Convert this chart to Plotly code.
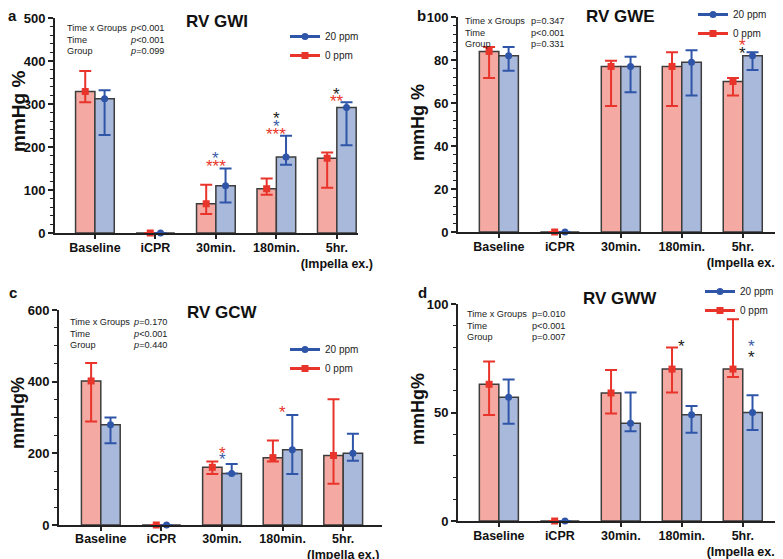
import plotly.graph_objects as go

categories = ["Baseline", "iCPR", "30min.", "180min.", "5hr.<br>(Impella ex.)"]

# Panel a: RV GWI
a_red_mean = [329, 0, 68, 103, 174]
a_red_up = [377, 0, 112, 127, 187]
a_red_lo = [304, 0, 44, 89, 105]
a_blue_mean = [312, 0, 110, 177, 292]
a_blue_up = [332, 0, 150, 226, 304]
a_blue_lo = [228, 0, 71, 159, 204]

# Panel b: RV GWE
b_red_mean = [84, 0, 77, 77, 70]
b_red_up = [86, 0, 79.6, 83.6, 71.6]
b_red_lo = [71.6, 0, 58.6, 58.6, 63.5]
b_blue_mean = [82, 0, 77, 79, 82]
b_blue_up = [86, 0, 81.5, 84.5, 83.6]
b_blue_lo = [75, 0, 65, 63.5, 75.4]

# Panel c: RV GCW
c_red_mean = [402, 0, 161, 188, 194]
c_red_up = [452, 0, 177, 236, 351]
c_red_lo = [289, 0, 142, 177, 115]
c_blue_mean = [280, 0, 144, 210, 200]
c_blue_up = [300, 0, 170, 307, 255]
c_blue_lo = [228, 0, 144, 142, 179]

# Panel d: RV GWW
d_red_mean = [63, 0, 59, 70, 70]
d_red_up = [73.5, 0, 69.6, 80, 93]
d_red_lo = [48.8, 0, 49.5, 59.2, 66.4]
d_blue_mean = [57, 0, 45, 49, 50]
d_blue_up = [65.2, 0, 59.2, 53, 57.9]
d_blue_lo = [44.8, 0, 41.4, 40.7, 41.9]

# significance marks: (category position, y value, text, colour key)
a_stars = [(2, 182, "*", "b"), (2, 163, "***", "r"), (3, 275, "*", "k"), (3, 256, "*", "b"),
           (3, 238, "***", "r"), (4, 332, "*", "k"), (4, 315.5, "**", "r")]
b_stars = [(4, 88.4, "*", "r"), (4, 85, "*", "k")]
c_stars = [(2, 212, "*", "r"), (2, 193, "*", "b"), (3, 326, "*", "r")]
d_stars = [(3, 82.3, "*", "k"), (4.15, 82.3, "*", "b"), (4.15, 77.4, "*", "k")]

a_stats = [("Time x Groups", "<i>p</i>&lt;0.001"), ("Time", "<i>p</i>&lt;0.001"), ("Group", "<i>p</i>=0.099")]
b_stats = [("Time x Groups", "p=0.347"), ("Time", "p&lt;0.001"), ("Group", "p=0.331")]
c_stats = [("Time x Groups", "<i>p</i>=0.170"), ("Time", "<i>p</i>&lt;0.001"), ("Group", "<i>p</i>=0.440")]
d_stats = [("Time x Groups", "p=0.010"), ("Time", "p&lt;0.001"), ("Group", "p=0.007")]

# the page body adds an 8px margin, so the figure is drawn 8px smaller and positions
# below are given in screen pixels and shifted back
PAGE_PAD = 8
W, H = 783 - PAGE_PAD, 559 - PAGE_PAD
FONT = "Liberation Sans, Arial, sans-serif"
RED_FILL = "#F4A9A2"
BLUE_FILL = "#A9B9DB"
RED = "#E8342A"
BLUE = "#2F55A8"
OUTLINE = "#3d3d3d"
STAR_COL = {"r": RED, "b": "#3B5BAA", "k": "#222222"}

def px_x(p):
    return (p - PAGE_PAD) / W

def px_y(p):
    return 1 - (p - PAGE_PAD) / H

panels = [
    dict(key="", red=(a_red_mean, a_red_up, a_red_lo), blue=(a_blue_mean, a_blue_up, a_blue_lo),
         xdom=(55, 358), ydom=(18, 233), xr=[-0.66, 4.35], yr=[0, 500], dtick=100, minor=20,
         title="RV GWI", tpos=(217, 21), letter="a", lpos=(12, 16), stand=-2,
         ytitle="mmHg %", ytsize=19, ytpos=(19, 112), stars=a_stars, stats=a_stats,
         spos=(65, 166, 28), legpos=(285, 22), legname="legend"),
    dict(key="2", red=(b_red_mean, b_red_up, b_red_lo), blue=(b_blue_mean, b_blue_up, b_blue_lo),
         xdom=(458, 783), ydom=(17, 232), xr=[-0.67, 4.66], yr=[0, 100], dtick=20, minor=4,
         title="RV GWE", tpos=(620, 17), letter="b", lpos=(421, 16), stand=-2,
         ytitle="mmHg %", ytsize=18, ytpos=(418, 123), stars=b_stars, stats=b_stats,
         spos=(463, 566, 21), legpos=(693, 0), legname="legend2"),
    dict(key="3", red=(c_red_mean, c_red_up, c_red_lo), blue=(c_blue_mean, c_blue_up, c_blue_lo),
         xdom=(59, 382), ydom=(310, 525), xr=[-0.69, 4.64], yr=[0, 600], dtick=200, minor=50,
         title="RV GCW", tpos=(222, 312), letter="c", lpos=(13, 292), stand=-3,
         ytitle="mmHg%", ytsize=18, ytpos=(18, 413), stars=c_stars, stats=c_stats,
         spos=(68, 169, 322), legpos=(285, 335), legname="legend3"),
    dict(key="4", red=(d_red_mean, d_red_up, d_red_lo), blue=(d_blue_mean, d_blue_up, d_blue_lo),
         xdom=(458, 783), ydom=(304, 521), xr=[-0.67, 4.66], yr=[0, 100], dtick=50, minor=10,
         title="RV GWW", tpos=(620, 298), letter="d", lpos=(422, 292), stand=-2,
         ytitle="mmHg%", ytsize=18, ytpos=(418, 409), stars=d_stars, stats=d_stats,
         spos=(465, 567, 314), legpos=(700, 277), legname="legend4"),
]

fig = go.Figure()
annotations = []
layout = dict(width=W, height=H, margin=dict(l=0, r=0, t=0, b=0, autoexpand=False),
              paper_bgcolor="white", plot_bgcolor="white",
              font=dict(family=FONT, color="#222222"),
              barmode="overlay", showlegend=True)

OFF = 0.16
for p in panels:
    k = p["key"]
    xa, ya = "x" + k, "y" + k
    for (mean, up, lo), sign, fill, col, sym in [
        (p["red"], -1, RED_FILL, RED, "square"),
        (p["blue"], 1, BLUE_FILL, BLUE, "circle"),
    ]:
        xb = [i + sign * OFF for i in range(len(mean))]
        xm = [i + sign * (OFF if m > 0 else 0.085) for i, m in enumerate(mean)]
        fig.add_trace(go.Bar(x=xb, y=mean, width=0.32, xaxis=xa, yaxis=ya,
                             marker=dict(color=fill, line=dict(color=OUTLINE, width=1.5)),
                             showlegend=False, hoverinfo="skip"))
        fig.add_trace(go.Scatter(x=xm, y=mean, xaxis=xa, yaxis=ya, mode="markers",
                                 marker=dict(symbol=sym, size=7, color=col),
                                 error_y=dict(type="data", symmetric=False,
                                              array=[u - m for u, m in zip(up, mean)],
                                              arrayminus=[m - l for m, l in zip(mean, lo)],
                                              color=col, thickness=2, width=6),
                                 cliponaxis=False, showlegend=False))
    for name, col, sym in [("20 ppm", BLUE, "circle"), ("0 ppm", RED, "square")]:
        fig.add_trace(go.Scatter(x=[None], y=[None], xaxis=xa, yaxis=ya, mode="lines+markers",
                                 name=name, line=dict(color=col, width=3),
                                 marker=dict(symbol=sym, size=7, color=col),
                                 legend=p["legname"]))
    layout[p["legname"]] = dict(x=px_x(p["legpos"][0]), y=px_y(p["legpos"][1]),
                                xanchor="left", yanchor="top", bgcolor="rgba(0,0,0,0)",
                                font=dict(size=10, family=FONT, color="#222"),
                                tracegroupgap=0, itemwidth=30)
    xkey = "xaxis" + k
    ykey = "yaxis" + k
    layout[xkey] = dict(domain=[px_x(p["xdom"][0]), px_x(p["xdom"][1])], range=p["xr"],
                        anchor=ya, tickvals=list(range(len(categories))), ticktext=categories,
                        tickangle=0, automargin=False, ticklabelstandoff=p["stand"],
                        showline=True, linecolor="#222", linewidth=2, ticks="outside",
                        ticklen=4, tickwidth=1.5, tickcolor="#222", showgrid=False, zeroline=False,
                        tickfont=dict(size=12.5, family=FONT, color="#111", weight="bold"),
                        fixedrange=True)
    layout[ykey] = dict(domain=[px_y(p["ydom"][1]), px_y(p["ydom"][0])], range=p["yr"],
                        anchor=xa, dtick=p["dtick"], showline=True, linecolor="#222", linewidth=2,
                        automargin=False,
                        ticks="outside", ticklen=5, tickwidth=1.5, tickcolor="#222",
                        minor=dict(dtick=p["minor"], ticks="outside", ticklen=3, tickwidth=1.2,
                                   tickcolor="#222", showgrid=False),
                        showgrid=False, zeroline=False,
                        tickfont=dict(size=13, family=FONT, color="#111", weight="bold"),
                        fixedrange=True)
    annotations.append(dict(text="<b>%s</b>" % p["title"], x=px_x(p["tpos"][0]), y=px_y(p["tpos"][1]),
                            xref="paper", yref="paper", showarrow=False, xanchor="center",
                            yanchor="middle", font=dict(size=17, family=FONT, color="#111")))
    annotations.append(dict(text="<b>%s</b>" % p["letter"], x=px_x(p["lpos"][0]), y=px_y(p["lpos"][1]),
                            xref="paper", yref="paper", showarrow=False, xanchor="center",
                            yanchor="middle", font=dict(size=15, family=FONT, color="#111")))
    annotations.append(dict(text="<b>%s</b>" % p["ytitle"], x=px_x(p["ytpos"][0]), y=px_y(p["ytpos"][1]),
                            xref="paper", yref="paper", showarrow=False, textangle=-90,
                            xanchor="center", yanchor="middle",
                            font=dict(size=p["ytsize"], family=FONT, color="#111")))
    lx, rx, y0 = p["spos"]
    for j, (lab, val) in enumerate(p["stats"]):
        yy = px_y(y0 + j * 11.7)
        annotations.append(dict(text=lab, x=px_x(lx), y=yy, xref="paper", yref="paper",
                                showarrow=False, xanchor="left", yanchor="middle",
                                font=dict(size=9.2, family=FONT, color="#222")))
        annotations.append(dict(text=val, x=px_x(rx), y=yy, xref="paper", yref="paper",
                                showarrow=False, xanchor="right", yanchor="middle",
                                font=dict(size=9.2, family=FONT, color="#222")))
    for (xc, yv, txt, ck) in p["stars"]:
        annotations.append(dict(text=txt, x=xc, y=yv, xref=xa, yref=ya, showarrow=False,
                                xanchor="center", yanchor="middle", yshift=-4,
                                font=dict(size=17, family=FONT, color=STAR_COL[ck])))

layout["annotations"] = annotations
fig.update_layout(**layout)
fig.write_html("out.html")
